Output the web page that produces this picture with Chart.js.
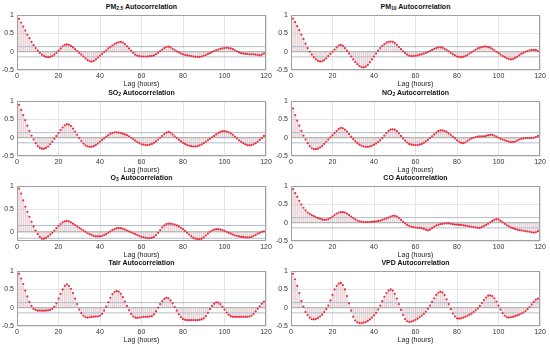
<!DOCTYPE html>
<html>
<head>
<meta charset="utf-8">
<script src="https://cdn.jsdelivr.net/npm/chart.js@4.4.1/dist/chart.umd.min.js"></script>
<style>
  body { margin: 0; background: #fff; }
  #page { position: relative; width: 550px; height: 348px; overflow: hidden; font-family: "Liberation Sans", Arial, sans-serif; }
  #page canvas { position: absolute; }
  .title { position: absolute; font-weight: bold; font-size: 7px; color: #111; transform: translate(-50%, -50%); white-space: nowrap; line-height: 8px; }
  .title sub { font-size: 5px; vertical-align: -1px; line-height: 0; }
</style>
</head>
<body>
<div id="page"></div>
<script>
// Lags 0..120 hours
const lags = Array.from({ length: 121 }, (_, i) => i);
const xTicks = [0, 20, 40, 60, 80, 100, 120];
const yTicks = [-0.5, 0, 0.5, 1];
const confBound = 0.14;

const titles = [
  "PM<sub>2.5</sub> Autocorrelation",
  "PM<sub>10</sub> Autocorrelation",
  "SO<sub>2</sub> Autocorrelation",
  "NO<sub>2</sub> Autocorrelation",
  "O<sub>3</sub> Autocorrelation",
  "CO Autocorrelation",
  "Tair Autocorrelation",
  "VPD Autocorrelation"
];
const yMins = [-0.5, -0.5, -0.5, -0.5, -0.2, -0.5, -0.5, -0.5];

const pm25 = [1.00, 0.90, 0.80, 0.69, 0.58, 0.47, 0.37, 0.27, 0.18, 0.10,
  0.03, -0.03, -0.08, -0.12, -0.14, -0.15, -0.14, -0.12, -0.08, -0.03,
  0.03, 0.09, 0.15, 0.19, 0.20, 0.19, 0.16, 0.12, 0.07, 0.02,
  -0.03, -0.08, -0.13, -0.18, -0.23, -0.26, -0.27, -0.25, -0.21, -0.16,
  -0.11, -0.06, -0.01, 0.04, 0.09, 0.13, 0.17, 0.21, 0.24, 0.26,
  0.27, 0.25, 0.21, 0.15, 0.09, 0.03, -0.03, -0.08, -0.11, -0.12,
  -0.13, -0.13, -0.13, -0.13, -0.12, -0.12, -0.10, -0.07, -0.03, 0.02,
  0.06, 0.10, 0.13, 0.14, 0.12, 0.08, 0.04, 0.01, -0.02, -0.05,
  -0.07, -0.09, -0.10, -0.11, -0.12, -0.13, -0.14, -0.14, -0.14, -0.13,
  -0.11, -0.09, -0.06, -0.04, -0.01, 0.02, 0.04, 0.06, 0.08, 0.09,
  0.10, 0.11, 0.10, 0.09, 0.07, 0.04, 0.01, -0.02, -0.04, -0.05,
  -0.06, -0.06, -0.07, -0.07, -0.07, -0.08, -0.09, -0.10, -0.08, -0.05,
  -0.02];

const pm10 = [1.00, 0.91, 0.81, 0.70, 0.59, 0.47, 0.35, 0.22, 0.10, 0.00,
  -0.08, -0.15, -0.21, -0.25, -0.27, -0.26, -0.23, -0.18, -0.12, -0.06,
  0.00, 0.06, 0.12, 0.17, 0.19, 0.16, 0.10, 0.03, -0.05, -0.13,
  -0.21, -0.28, -0.34, -0.39, -0.42, -0.43, -0.41, -0.36, -0.29, -0.21,
  -0.13, -0.05, 0.03, 0.10, 0.16, 0.21, 0.25, 0.27, 0.28, 0.27,
  0.24, 0.19, 0.13, 0.07, 0.01, -0.04, -0.08, -0.11, -0.12, -0.12,
  -0.11, -0.10, -0.08, -0.07, -0.05, -0.03, -0.01, 0.02, 0.05, 0.08,
  0.10, 0.12, 0.12, 0.11, 0.08, 0.05, 0.01, -0.03, -0.07, -0.10,
  -0.13, -0.14, -0.15, -0.14, -0.12, -0.09, -0.05, -0.02, 0.02, 0.06,
  0.09, 0.11, 0.13, 0.14, 0.14, 0.13, 0.11, 0.08, 0.04, 0.00,
  -0.04, -0.08, -0.12, -0.15, -0.18, -0.20, -0.21, -0.20, -0.17, -0.14,
  -0.10, -0.06, -0.03, 0.00, 0.02, 0.04, 0.05, 0.05, 0.05, 0.02,
  -0.02];

const so2 = [1.00, 0.90, 0.76, 0.62, 0.48, 0.33, 0.19, 0.06, -0.05, -0.15,
  -0.23, -0.28, -0.30, -0.30, -0.28, -0.24, -0.18, -0.11, -0.03, 0.05,
  0.13, 0.21, 0.28, 0.34, 0.37, 0.36, 0.32, 0.25, 0.17, 0.08,
  -0.01, -0.09, -0.16, -0.21, -0.24, -0.25, -0.25, -0.23, -0.20, -0.16,
  -0.11, -0.06, -0.02, 0.03, 0.07, 0.11, 0.13, 0.15, 0.15, 0.14,
  0.13, 0.11, 0.09, 0.07, 0.04, 0.00, -0.04, -0.08, -0.12, -0.15,
  -0.18, -0.19, -0.20, -0.20, -0.19, -0.17, -0.14, -0.10, -0.05, 0.00,
  0.05, 0.10, 0.14, 0.16, 0.14, 0.09, 0.04, -0.01, -0.06, -0.10,
  -0.14, -0.17, -0.20, -0.22, -0.23, -0.24, -0.24, -0.23, -0.21, -0.18,
  -0.15, -0.11, -0.07, -0.03, 0.01, 0.05, 0.09, 0.13, 0.16, 0.18,
  0.18, 0.17, 0.15, 0.12, 0.08, 0.03, -0.02, -0.07, -0.11, -0.15,
  -0.18, -0.20, -0.21, -0.20, -0.18, -0.15, -0.11, -0.06, -0.01, 0.05,
  0.12];

const no2 = [1.00, 0.80, 0.62, 0.47, 0.33, 0.19, 0.06, -0.05, -0.15, -0.23,
  -0.29, -0.31, -0.31, -0.30, -0.27, -0.23, -0.17, -0.11, -0.05, 0.01,
  0.07, 0.13, 0.19, 0.24, 0.27, 0.26, 0.22, 0.17, 0.10, 0.03,
  -0.04, -0.10, -0.15, -0.19, -0.22, -0.24, -0.25, -0.25, -0.24, -0.22,
  -0.19, -0.16, -0.12, -0.07, -0.01, 0.06, 0.13, 0.19, 0.22, 0.23,
  0.22, 0.18, 0.12, 0.05, -0.02, -0.08, -0.13, -0.17, -0.19, -0.20,
  -0.20, -0.20, -0.19, -0.17, -0.14, -0.10, -0.06, -0.01, 0.04, 0.09,
  0.14, 0.18, 0.20, 0.20, 0.19, 0.16, 0.12, 0.08, 0.03, -0.02,
  -0.07, -0.11, -0.14, -0.15, -0.13, -0.09, -0.05, -0.02, 0.00, 0.02,
  0.03, 0.04, 0.04, 0.04, 0.05, 0.07, 0.08, 0.08, 0.06, 0.03,
  0.00, -0.03, -0.05, -0.07, -0.09, -0.11, -0.12, -0.12, -0.11, -0.08,
  -0.05, -0.03, -0.02, -0.01, -0.01, -0.01, -0.01, 0.00, 0.02, 0.05,
  0.08];

const o3 = [1.00, 0.95, 0.84, 0.69, 0.55, 0.44, 0.33, 0.22, 0.12, 0.03,
  -0.05, -0.11, -0.15, -0.15, -0.13, -0.10, -0.06, -0.02, 0.03, 0.08,
  0.13, 0.17, 0.21, 0.23, 0.24, 0.23, 0.21, 0.18, 0.15, 0.12,
  0.09, 0.06, 0.03, 0.00, -0.03, -0.05, -0.07, -0.09, -0.10, -0.10,
  -0.10, -0.09, -0.07, -0.05, -0.02, 0.01, 0.04, 0.06, 0.08, 0.08,
  0.08, 0.07, 0.05, 0.03, 0.01, -0.01, -0.03, -0.05, -0.07, -0.09,
  -0.11, -0.12, -0.13, -0.14, -0.14, -0.13, -0.11, -0.07, -0.02, 0.04,
  0.10, 0.14, 0.17, 0.18, 0.18, 0.17, 0.16, 0.14, 0.12, 0.09,
  0.06, 0.02, -0.02, -0.06, -0.10, -0.13, -0.15, -0.16, -0.16, -0.15,
  -0.12, -0.08, -0.04, 0.00, 0.03, 0.05, 0.06, 0.06, 0.05, 0.04,
  0.02, 0.00, -0.02, -0.04, -0.06, -0.08, -0.09, -0.10, -0.11, -0.11,
  -0.12, -0.12, -0.12, -0.11, -0.09, -0.07, -0.04, -0.02, 0.00, 0.01,
  0.02];

const co = [1.00, 0.92, 0.81, 0.71, 0.60, 0.50, 0.41, 0.34, 0.28, 0.24,
  0.21, 0.18, 0.15, 0.13, 0.11, 0.09, 0.08, 0.08, 0.10, 0.13,
  0.17, 0.21, 0.25, 0.28, 0.29, 0.29, 0.28, 0.25, 0.21, 0.17,
  0.13, 0.09, 0.06, 0.04, 0.03, 0.02, 0.02, 0.02, 0.02, 0.03,
  0.03, 0.04, 0.05, 0.06, 0.08, 0.10, 0.12, 0.14, 0.17, 0.19,
  0.19, 0.17, 0.13, 0.08, 0.03, -0.02, -0.06, -0.09, -0.11, -0.12,
  -0.13, -0.14, -0.14, -0.15, -0.17, -0.19, -0.21, -0.19, -0.15, -0.11,
  -0.08, -0.06, -0.04, -0.03, -0.02, -0.02, -0.02, -0.03, -0.04, -0.05,
  -0.05, -0.06, -0.06, -0.07, -0.08, -0.09, -0.10, -0.11, -0.12, -0.13,
  -0.14, -0.14, -0.12, -0.09, -0.06, -0.03, 0.01, 0.05, 0.08, 0.10,
  0.09, 0.05, 0.01, -0.03, -0.07, -0.10, -0.13, -0.15, -0.17, -0.19,
  -0.20, -0.21, -0.22, -0.23, -0.24, -0.25, -0.26, -0.27, -0.26, -0.23,
  -0.19];

const tair = [1.00, 0.93, 0.80, 0.65, 0.47, 0.31, 0.16, 0.05, -0.03, -0.06,
  -0.08, -0.08, -0.08, -0.08, -0.08, -0.07, -0.06, -0.03, 0.03, 0.12,
  0.25, 0.38, 0.50, 0.60, 0.64, 0.60, 0.52, 0.40, 0.25, 0.10,
  -0.05, -0.15, -0.22, -0.26, -0.27, -0.26, -0.25, -0.25, -0.24, -0.24,
  -0.22, -0.17, -0.08, 0.03, 0.15, 0.27, 0.37, 0.43, 0.46, 0.44,
  0.38, 0.29, 0.17, 0.05, -0.07, -0.17, -0.24, -0.27, -0.28, -0.27,
  -0.26, -0.25, -0.25, -0.25, -0.24, -0.23, -0.18, -0.10, 0.00, 0.10,
  0.18, 0.24, 0.27, 0.26, 0.20, 0.12, 0.02, -0.08, -0.18, -0.26,
  -0.31, -0.33, -0.34, -0.34, -0.34, -0.34, -0.34, -0.34, -0.33, -0.32,
  -0.29, -0.23, -0.14, -0.04, 0.05, 0.11, 0.15, 0.14, 0.10, 0.03,
  -0.05, -0.13, -0.19, -0.23, -0.25, -0.25, -0.25, -0.25, -0.25, -0.25,
  -0.25, -0.25, -0.24, -0.22, -0.17, -0.10, -0.03, 0.04, 0.11, 0.17,
  0.21];

const vpd = [1.00, 0.93, 0.78, 0.60, 0.40, 0.18, 0.03, -0.12, -0.20, -0.27,
  -0.31, -0.32, -0.31, -0.28, -0.24, -0.19, -0.12, -0.04, 0.06, 0.20,
  0.35, 0.50, 0.60, 0.66, 0.68, 0.62, 0.50, 0.32, 0.12, -0.08,
  -0.25, -0.35, -0.40, -0.42, -0.42, -0.41, -0.39, -0.36, -0.32, -0.27,
  -0.21, -0.14, -0.05, 0.06, 0.18, 0.30, 0.40, 0.47, 0.50, 0.47,
  0.38, 0.25, 0.10, -0.06, -0.20, -0.31, -0.37, -0.39, -0.38, -0.36,
  -0.33, -0.30, -0.26, -0.22, -0.17, -0.11, -0.03, 0.06, 0.16, 0.26,
  0.35, 0.41, 0.44, 0.42, 0.35, 0.23, 0.10, -0.04, -0.16, -0.24,
  -0.29, -0.30, -0.29, -0.27, -0.25, -0.22, -0.19, -0.16, -0.12, -0.07,
  -0.02, 0.05, 0.13, 0.21, 0.28, 0.33, 0.34, 0.32, 0.26, 0.17,
  0.06, -0.05, -0.15, -0.22, -0.26, -0.27, -0.26, -0.25, -0.23, -0.21,
  -0.19, -0.16, -0.13, -0.09, -0.04, 0.02, 0.09, 0.16, 0.22, 0.25,
  0.25];

const series = [pm25, pm10, so2, no2, o3, co, tair, vpd];

// Panel placement (plot area in page pixels)
const colLeft = [17, 291];
const rowTop = [13, 99, 184, 269];
const plotW = 249, plotH = 57;
const padL = 17, padR = 8, padT = 5, axisH = 18, padB = 2;

// MATLAB-like box around the plot area
const boxPlugin = {
  id: "box",
  afterDatasetsDraw(chart) {
    const a = chart.chartArea, c = chart.ctx;
    c.save();
    c.strokeStyle = "#a0a0a0";
    c.lineWidth = 1;
    c.strokeRect(Math.round(a.left) + 0.5, Math.round(a.top) + 0.5,
      Math.round(a.right - a.left) - 1, Math.round(a.bottom - a.top) - 1);
    c.restore();
  }
};

const page = document.getElementById("page");
const tickFont = { family: "'Liberation Sans', Arial, sans-serif", size: 7 };

series.forEach((vals, i) => {
  const col = i % 2, row = Math.floor(i / 2);
  const px = colLeft[col], py = rowTop[row];

  const t = document.createElement("div");
  t.className = "title";
  t.innerHTML = titles[i];
  t.style.left = (px + plotW / 2) + "px";
  t.style.top = (py - 6) + "px";
  page.appendChild(t);

  const canvas = document.createElement("canvas");
  canvas.width = padL + plotW + padR;
  canvas.height = padT + plotH + axisH + padB;
  canvas.style.left = (px - padL) + "px";
  canvas.style.top = (py - padT) + "px";
  page.appendChild(canvas);

  const pts = lags.map((l, k) => ({ x: l, y: vals[k] }));
  const yMin = yMins[i];

  new Chart(canvas, {
    type: "bar",
    data: {
      datasets: [
        {
          type: "line",
          data: pts,
          showLine: false,
          pointRadius: 1.1,
          pointBackgroundColor: "#e8303f",
          pointBorderWidth: 0,
          order: 0
        },
        {
          type: "line",
          data: [{ x: 0, y: confBound }, { x: 120, y: confBound }],
          borderColor: "#b4bccd",
          borderWidth: 1,
          pointRadius: 0,
          order: 1
        },
        {
          type: "line",
          data: [{ x: 0, y: -confBound }, { x: 120, y: -confBound }],
          borderColor: "#b4bccd",
          borderWidth: 1,
          pointRadius: 0,
          order: 1
        },
        {
          type: "line",
          data: [{ x: 0, y: 0 }, { x: 120, y: 0 }],
          borderColor: "#a8a8a8",
          borderWidth: 1,
          pointRadius: 0,
          order: 1
        },
        {
          type: "bar",
          data: pts,
          backgroundColor: "rgba(205,160,168,0.45)",
          barThickness: 0.8,
          order: 2
        }
      ]
    },
    options: {
      responsive: false,
      animation: false,
      events: [],
      layout: { padding: { left: 0, right: padR, top: padT, bottom: padB } },
      plugins: { legend: { display: false }, tooltip: { enabled: false } },
      scales: {
        x: {
          type: "linear",
          min: 0,
          max: 120,
          offset: false,
          afterBuildTicks: s => { s.ticks = xTicks.map(v => ({ value: v })); },
          afterFit: s => { s.height = axisH; },
          ticks: { font: tickFont, color: "#333", padding: 2, maxRotation: 0 },
          grid: { color: "#e6e6e6", drawTicks: false, offset: false },
          border: { display: false },
          title: { display: true, text: "Lag (hours)", font: tickFont, color: "#222", padding: 0 }
        },
        y: {
          min: yMin,
          max: 1,
          afterBuildTicks: s => { s.ticks = yTicks.filter(v => v >= yMin).map(v => ({ value: v })); },
          afterFit: s => { s.width = padL; },
          ticks: { font: tickFont, color: "#333", padding: 3, callback: v => String(v) },
          grid: { color: "#e6e6e6", drawTicks: false },
          border: { display: false }
        }
      }
    },
    plugins: [boxPlugin]
  });
});
</script>
</body>
</html>
